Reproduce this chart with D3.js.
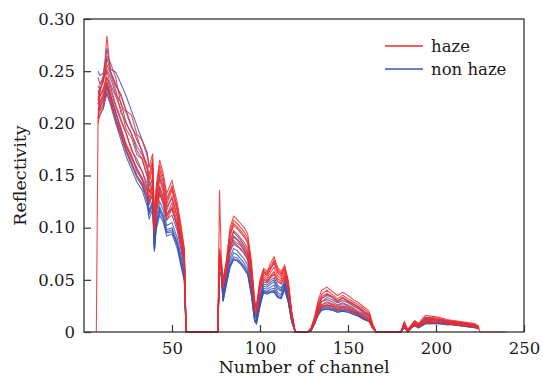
<!DOCTYPE html>
<meta charset="utf-8">
<style>
body { margin: 0; background: #fff; }
svg { display: block; }
.axis text { font-family: "DejaVu Serif", serif; font-size: 16.5px; fill: #1a1a1a; }
.axis line { stroke: #333; stroke-width: 1.2px; }
.axis path { display: none; }
.frame { fill: none; stroke: #333; stroke-width: 1.3px; }
.title { font-family: "DejaVu Serif", serif; font-size: 17.5px; fill: #1a1a1a; }
.legend text { font-family: "DejaVu Serif", serif; font-size: 16.5px; fill: #1a1a1a; }
.haze { fill: none; stroke: #ee2a2e; stroke-width: 1.1px; stroke-opacity: 0.85; }
.nonhaze { fill: none; stroke: #3b55b3; stroke-width: 1.1px; stroke-opacity: 0.85; }
</style>
<svg width="543" height="380"></svg>
<script src="https://d3js.org/d3.v7.min.js"></script>
<script>

// band numbers (x values)
var channels = [
  7, 8, 9, 11, 12, 13, 15, 18, 21, 24, 27, 30, 33, 36, 37, 39, 40, 41, 43, 45, 47, 50, 53, 55, 57, 58,
  76, 77, 78, 79, 81, 83, 85, 87, 89, 91, 93, 95, 97, 98, 100, 102, 104, 106, 108, 110, 112, 114, 116, 118, 120,
  127, 129, 131, 133, 135, 138, 141, 144, 147, 150, 153, 156, 159, 162, 164, 166,
  180, 182, 184, 186, 188, 190, 194, 198, 202, 206, 210, 214, 218, 222, 224, 225, 240
];

var haze1 = [
  0, 0.205, 0.228, 0.245, 0.262, 0.284, 0.25, 0.236, 0.228, 0.212, 0.208, 0.19, 0.184, 0.168, 0.158, 0.171, 0.105, 0.14, 0.165, 0.152, 0.133, 0.145, 0.124, 0.104, 0.08, 0,
  0, 0.136, 0.07, 0.05, 0.07, 0.1, 0.111, 0.108, 0.104, 0.1, 0.094, 0.07, 0.03, 0.026, 0.05, 0.061, 0.058, 0.066, 0.072, 0.062, 0.058, 0.064, 0.05, 0.02, 0,
  0, 0.004, 0.015, 0.03, 0.04, 0.043, 0.039, 0.035, 0.038, 0.035, 0.031, 0.028, 0.024, 0.02, 0.008, 0,
  0, 0.01, 0.002, 0.007, 0.011, 0.008, 0.016, 0.015, 0.014, 0.012, 0.011, 0.01, 0.009, 0.008, 0.006, 0, 0
];
var haze2 = [
  null, 0.222, 0.232, 0.24, 0.252, 0.264, 0.258, 0.244, 0.218, 0.21, 0.196, 0.188, 0.172, 0.16, 0.15, 0.166, 0.1, 0.135, 0.16, 0.148, 0.128, 0.14, 0.12, 0.1, 0.078, 0,
  0, 0.08, 0.068, 0.048, 0.068, 0.097, 0.107, 0.104, 0.1, 0.096, 0.09, 0.066, 0.028, 0.024, 0.048, 0.059, 0.056, 0.063, 0.069, 0.06, 0.056, 0.062, 0.048, 0.019, 0,
  0, 0.004, 0.013, 0.027, 0.036, 0.04, 0.036, 0.032, 0.035, 0.032, 0.029, 0.026, 0.022, 0.018, 0.007, 0,
  0, 0.009, 0.002, 0.006, 0.01, 0.007, 0.014, 0.014, 0.013, 0.011, 0.01, 0.009, 0.008, 0.007, 0.005, null, null
];
var haze3 = [
  null, 0.23, 0.226, 0.234, 0.24, 0.25, 0.238, 0.226, 0.214, 0.194, 0.186, 0.17, 0.166, 0.15, 0.142, 0.158, 0.102, 0.128, 0.152, 0.14, 0.122, 0.136, 0.115, 0.096, 0.075, 0,
  0, 0.075, 0.066, 0.046, 0.066, 0.092, 0.102, 0.099, 0.095, 0.091, 0.085, 0.062, 0.026, 0.022, 0.046, 0.057, 0.054, 0.06, 0.066, 0.057, 0.053, 0.06, 0.046, 0.018, 0,
  0, 0.003, 0.012, 0.024, 0.032, 0.035, 0.033, 0.029, 0.032, 0.029, 0.026, 0.023, 0.019, 0.016, 0.006, 0,
  0, 0.008, 0.001, 0.006, 0.009, 0.006, 0.013, 0.012, 0.012, 0.01, 0.009, 0.008, 0.007, 0.006, 0.005, null, null
];
var haze4 = [
  null, 0.212, 0.22, 0.23, 0.236, 0.244, 0.232, 0.216, 0.202, 0.19, 0.174, 0.166, 0.154, 0.142, 0.134, 0.15, 0.098, 0.122, 0.146, 0.134, 0.117, 0.13, 0.11, 0.092, 0.072, 0,
  0, 0.072, 0.064, 0.044, 0.064, 0.088, 0.097, 0.094, 0.09, 0.086, 0.08, 0.058, 0.024, 0.021, 0.044, 0.055, 0.052, 0.057, 0.062, 0.054, 0.051, 0.057, 0.044, 0.017, 0,
  0, 0.003, 0.011, 0.022, 0.029, 0.031, 0.029, 0.026, 0.028, 0.026, 0.023, 0.02, 0.017, 0.014, 0.005, 0,
  0, 0.007, 0.001, 0.005, 0.008, 0.006, 0.011, 0.011, 0.01, 0.009, 0.008, 0.007, 0.007, 0.006, 0.004, null, null
];
var haze5 = [
  null, 0.205, 0.214, 0.222, 0.23, 0.238, 0.226, 0.21, 0.196, 0.18, 0.17, 0.156, 0.148, 0.136, 0.128, 0.144, 0.1, 0.118, 0.14, 0.128, 0.112, 0.124, 0.105, 0.088, 0.07, 0,
  0, 0.07, 0.062, 0.043, 0.062, 0.084, 0.092, 0.089, 0.086, 0.081, 0.075, 0.054, 0.022, 0.02, 0.042, 0.053, 0.05, 0.054, 0.058, 0.051, 0.049, 0.055, 0.042, 0.016, 0,
  0, 0.002, 0.01, 0.02, 0.026, 0.028, 0.026, 0.024, 0.025, 0.024, 0.021, 0.018, 0.015, 0.012, 0.005, 0,
  0, 0.006, 0.001, 0.005, 0.008, 0.005, 0.01, 0.01, 0.009, 0.008, 0.008, 0.007, 0.006, 0.005, 0.004, null, null
];
var haze6 = [
  null, 0.2, 0.208, 0.216, 0.224, 0.23, 0.22, 0.202, 0.188, 0.174, 0.162, 0.15, 0.142, 0.13, 0.122, 0.138, 0.095, 0.112, 0.134, 0.122, 0.107, 0.118, 0.1, 0.084, 0.066, 0,
  0, 0.068, 0.06, 0.042, 0.06, 0.08, 0.084, 0.082, 0.08, 0.076, 0.07, 0.05, 0.02, 0.018, 0.04, 0.05, 0.048, 0.052, 0.055, 0.048, 0.046, 0.052, 0.04, 0.015, 0,
  0, 0.002, 0.009, 0.018, 0.024, 0.025, 0.024, 0.021, 0.023, 0.021, 0.019, 0.017, 0.014, 0.011, 0.004, 0,
  0, 0.006, 0, 0.004, 0.007, 0.005, 0.009, 0.009, 0.009, 0.008, 0.007, 0.006, 0.006, 0.005, 0.003, null, null
];
var haze7 = [
  null, 0.218, 0.236, 0.246, 0.248, 0.256, 0.248, 0.232, 0.21, 0.2, 0.19, 0.178, 0.17, 0.156, 0.146, 0.162, 0.098, 0.132, 0.156, 0.144, 0.125, 0.138, 0.118, 0.098, 0.077, 0,
  0, 0.078, 0.067, 0.047, 0.067, 0.094, 0.104, 0.101, 0.097, 0.093, 0.087, 0.064, 0.027, 0.023, 0.047, 0.058, 0.055, 0.061, 0.067, 0.058, 0.055, 0.061, 0.047, 0.018, 0,
  0, 0.003, 0.012, 0.025, 0.034, 0.037, 0.034, 0.03, 0.033, 0.03, 0.027, 0.024, 0.02, 0.017, 0.006, 0,
  0, 0.008, 0.002, 0.006, 0.01, 0.007, 0.013, 0.013, 0.012, 0.011, 0.01, 0.009, 0.008, 0.007, 0.005, null, null
];
var haze8 = [
  null, 0.208, 0.216, 0.226, 0.232, 0.24, 0.228, 0.212, 0.192, 0.178, 0.166, 0.158, 0.146, 0.134, 0.125, 0.14, 0.096, 0.115, 0.137, 0.125, 0.11, 0.12, 0.102, 0.086, 0.068, 0,
  0, 0.069, 0.061, 0.042, 0.061, 0.082, 0.088, 0.085, 0.083, 0.078, 0.072, 0.052, 0.021, 0.019, 0.041, 0.051, 0.049, 0.053, 0.056, 0.049, 0.047, 0.053, 0.041, 0.015, 0,
  0, 0.002, 0.009, 0.019, 0.025, 0.026, 0.025, 0.022, 0.024, 0.022, 0.02, 0.017, 0.014, 0.011, 0.004, 0,
  0, 0.006, 0.001, 0.004, 0.007, 0.005, 0.01, 0.009, 0.009, 0.008, 0.007, 0.007, 0.006, 0.005, 0.003, null, null
];

var nonHaze1 = [
  null, 0.25, 0.246, 0.248, 0.258, 0.272, 0.252, 0.249, 0.238, 0.226, 0.212, 0.198, 0.184, 0.172, 0.158, 0.16, 0.11, 0.13, 0.148, 0.138, 0.12, 0.128, 0.11, 0.09, 0.07, 0,
  0, 0.065, 0.062, 0.04, 0.06, 0.085, 0.096, 0.092, 0.088, 0.083, 0.077, 0.055, 0.02, 0.016, 0.035, 0.048, 0.047, 0.05, 0.052, 0.045, 0.042, 0.05, 0.038, 0.015, 0,
  0, 0.003, 0.012, 0.024, 0.032, 0.036, 0.034, 0.03, 0.033, 0.03, 0.027, 0.024, 0.02, 0.016, 0.006, 0,
  0, 0.008, 0.002, 0.006, 0.01, 0.007, 0.014, 0.013, 0.012, 0.011, 0.01, 0.009, 0.008, 0.007, 0.005, null, null
];
var nonHaze2 = [
  null, 0.244, 0.238, 0.242, 0.246, 0.252, 0.244, 0.228, 0.22, 0.2, 0.19, 0.174, 0.166, 0.148, 0.134, 0.14, 0.09, 0.115, 0.132, 0.124, 0.108, 0.112, 0.097, 0.08, 0.06, 0,
  0, 0.062, 0.06, 0.036, 0.055, 0.076, 0.086, 0.083, 0.079, 0.075, 0.069, 0.048, 0.016, 0.013, 0.031, 0.044, 0.043, 0.046, 0.048, 0.041, 0.039, 0.047, 0.035, 0.013, 0,
  0, 0.002, 0.01, 0.02, 0.026, 0.029, 0.027, 0.025, 0.027, 0.025, 0.022, 0.019, 0.016, 0.013, 0.005, 0,
  0, 0.007, 0.001, 0.005, 0.008, 0.006, 0.012, 0.012, 0.011, 0.009, 0.009, 0.008, 0.007, 0.006, 0.004, null, null
];
var nonHaze3 = [
  null, 0.232, 0.226, 0.232, 0.238, 0.244, 0.236, 0.218, 0.204, 0.19, 0.176, 0.162, 0.154, 0.138, 0.122, 0.132, 0.085, 0.108, 0.125, 0.117, 0.102, 0.105, 0.09, 0.074, 0.056, 0,
  0, 0.06, 0.058, 0.034, 0.052, 0.071, 0.08, 0.078, 0.074, 0.07, 0.064, 0.044, 0.014, 0.011, 0.029, 0.042, 0.041, 0.043, 0.045, 0.038, 0.036, 0.045, 0.033, 0.012, 0,
  0, 0.002, 0.009, 0.019, 0.024, 0.026, 0.025, 0.023, 0.024, 0.023, 0.02, 0.018, 0.015, 0.012, 0.004, 0,
  0, 0.006, 0.001, 0.005, 0.008, 0.005, 0.011, 0.011, 0.01, 0.009, 0.008, 0.007, 0.006, 0.005, 0.004, null, null
];
var nonHaze4 = [
  null, 0.226, 0.22, 0.226, 0.232, 0.238, 0.228, 0.21, 0.194, 0.178, 0.168, 0.154, 0.146, 0.13, 0.116, 0.126, 0.08, 0.103, 0.12, 0.112, 0.098, 0.1, 0.086, 0.07, 0.053, 0,
  0, 0.058, 0.056, 0.032, 0.05, 0.067, 0.076, 0.074, 0.07, 0.066, 0.06, 0.04, 0.012, 0.01, 0.027, 0.04, 0.039, 0.041, 0.042, 0.036, 0.034, 0.043, 0.031, 0.011, 0,
  0, 0.002, 0.008, 0.018, 0.023, 0.024, 0.023, 0.021, 0.022, 0.021, 0.019, 0.016, 0.013, 0.011, 0.004, 0,
  0, 0.005, 0, 0.004, 0.007, 0.005, 0.01, 0.01, 0.009, 0.008, 0.007, 0.006, 0.006, 0.005, 0.003, null, null
];
var nonHaze5 = [
  null, 0.215, 0.212, 0.218, 0.226, 0.234, 0.222, 0.204, 0.188, 0.172, 0.16, 0.148, 0.14, 0.124, 0.112, 0.122, 0.078, 0.1, 0.116, 0.108, 0.095, 0.096, 0.083, 0.066, 0.05, 0,
  0, 0.057, 0.055, 0.03, 0.048, 0.064, 0.072, 0.071, 0.067, 0.063, 0.057, 0.038, 0.011, 0.009, 0.026, 0.039, 0.038, 0.039, 0.04, 0.034, 0.033, 0.042, 0.03, 0.01, 0,
  0, 0.001, 0.008, 0.017, 0.022, 0.023, 0.022, 0.02, 0.021, 0.02, 0.018, 0.016, 0.013, 0.01, 0.004, 0,
  0, 0.005, 0, 0.004, 0.007, 0.004, 0.009, 0.009, 0.008, 0.008, 0.007, 0.006, 0.005, 0.005, 0.003, null, null
];
var nonHaze6 = [
  null, 0.205, 0.208, 0.214, 0.222, 0.228, 0.218, 0.2, 0.184, 0.168, 0.156, 0.144, 0.136, 0.12, 0.108, 0.118, 0.077, 0.098, 0.112, 0.105, 0.092, 0.094, 0.08, 0.064, 0.049, 0,
  0, 0.056, 0.054, 0.029, 0.046, 0.062, 0.069, 0.068, 0.065, 0.06, 0.055, 0.036, 0.01, 0.008, 0.025, 0.038, 0.036, 0.038, 0.038, 0.033, 0.032, 0.041, 0.029, 0.01, 0,
  0, 0.001, 0.008, 0.016, 0.021, 0.022, 0.021, 0.019, 0.02, 0.019, 0.017, 0.015, 0.012, 0.01, 0.004, 0,
  0, 0.004, 0, 0.004, 0.006, 0.004, 0.008, 0.008, 0.008, 0.007, 0.007, 0.006, 0.005, 0.004, 0.003, null, null
];
var nonHaze7 = [
  null, 0.236, 0.232, 0.24, 0.25, 0.262, 0.25, 0.238, 0.226, 0.212, 0.198, 0.184, 0.174, 0.156, 0.14, 0.146, 0.095, 0.12, 0.138, 0.13, 0.113, 0.118, 0.102, 0.084, 0.064, 0,
  0, 0.063, 0.061, 0.038, 0.058, 0.08, 0.091, 0.088, 0.084, 0.079, 0.073, 0.052, 0.018, 0.014, 0.033, 0.046, 0.045, 0.048, 0.05, 0.043, 0.04, 0.048, 0.036, 0.014, 0,
  0, 0.002, 0.011, 0.022, 0.029, 0.033, 0.031, 0.028, 0.03, 0.028, 0.025, 0.022, 0.018, 0.015, 0.005, 0,
  0, 0.007, 0.001, 0.005, 0.009, 0.006, 0.013, 0.012, 0.011, 0.01, 0.009, 0.008, 0.007, 0.006, 0.004, null, null
];
var nonHaze8 = [
  null, 0.22, 0.216, 0.222, 0.228, 0.236, 0.224, 0.206, 0.19, 0.175, 0.163, 0.15, 0.142, 0.126, 0.114, 0.124, 0.079, 0.101, 0.118, 0.11, 0.096, 0.098, 0.084, 0.068, 0.051, 0,
  0, 0.056, 0.054, 0.03, 0.047, 0.063, 0.07, 0.069, 0.066, 0.062, 0.056, 0.037, 0.01, 0.008, 0.025, 0.038, 0.037, 0.038, 0.039, 0.034, 0.032, 0.041, 0.029, 0.01, 0,
  0, 0.001, 0.008, 0.016, 0.021, 0.022, 0.021, 0.019, 0.02, 0.019, 0.017, 0.015, 0.012, 0.01, 0.004, 0,
  0, 0.004, 0, 0.004, 0.006, 0.004, 0.008, 0.008, 0.008, 0.007, 0.007, 0.006, 0.005, 0.004, 0.003, null, null
];

var hazeSeries = [haze1, haze2, haze3, haze4, haze5, haze6, haze7, haze8];
var nonHazeSeries = [nonHaze1, nonHaze2, nonHaze3, nonHaze4, nonHaze5, nonHaze6, nonHaze7, nonHaze8];

var xTicks = [50, 100, 150, 200, 250];
var yTicks = [0, 0.05, 0.10, 0.15, 0.20, 0.25, 0.30];

var svg = d3.select("svg"),
    margin = {top: 19, right: 19, bottom: 48, left: 84},
    width = +svg.attr("width") - margin.left - margin.right,
    height = +svg.attr("height") - margin.top - margin.bottom;

var x = d3.scaleLinear().domain([0, 250]).range([0, 440]),
    y = d3.scaleLinear().domain([0, 0.30]).range([height, 0]);

var g = svg.append("g")
    .attr("transform", "translate(" + margin.left + "," + margin.top + ")");

var line = d3.line()
    .defined(function(d) { return d != null; })
    .x(function(d, i) { return x(channels[i]); })
    .y(function(d) { return y(d); });

g.selectAll(".nonhaze")
    .data(nonHazeSeries)
  .enter().append("path")
    .attr("class", "nonhaze")
    .attr("d", line);

g.selectAll(".haze")
    .data(hazeSeries)
  .enter().append("path")
    .attr("class", "haze")
    .attr("d", line);

g.append("g")
    .attr("class", "axis axis--x")
    .attr("transform", "translate(0," + height + ")")
    .call(d3.axisBottom(x).tickValues(xTicks).tickSizeInner(-7).tickSizeOuter(0).tickPadding(10));

g.append("g")
    .attr("class", "axis axis--y")
    .call(d3.axisLeft(y).tickValues(yTicks).tickSizeInner(-7).tickSizeOuter(0).tickPadding(9)
      .tickFormat(function(d) { return d === 0 ? "0" : d3.format(".2f")(d); }));

g.append("rect")
    .attr("class", "frame")
    .attr("width", width)
    .attr("height", height);

svg.append("text")
    .attr("class", "title")
    .attr("x", margin.left + width / 2)
    .attr("y", 373)
    .attr("text-anchor", "middle")
    .text("Number of channel");

svg.append("text")
    .attr("class", "title")
    .attr("transform", "translate(26," + (margin.top + height / 2) + ") rotate(-90)")
    .attr("text-anchor", "middle")
    .text("Reflectivity");

var legend = svg.append("g").attr("class", "legend");
var legendItems = [{label: "haze", cls: "haze"}, {label: "non haze", cls: "nonhaze"}];
legendItems.forEach(function(d, i) {
  var ly = 46 + i * 23;
  legend.append("line")
      .attr("x1", 385).attr("x2", 423)
      .attr("y1", ly).attr("y2", ly)
      .attr("stroke", d.cls === "haze" ? "#ee2a2e" : "#3b55b3")
      .attr("stroke-width", 1.4);
  legend.append("text")
      .attr("x", 431).attr("y", ly)
      .attr("dy", "0.35em")
      .text(d.label);
});

</script>
